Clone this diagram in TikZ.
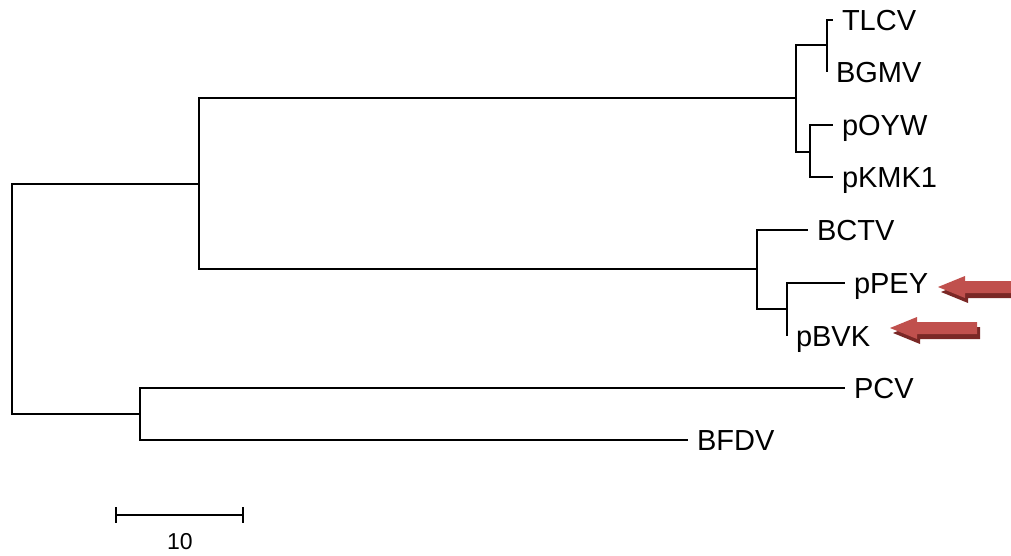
\documentclass[tikz,border=0pt]{standalone}
\usepackage{fontspec}
\setmainfont{Liberation Sans}
\definecolor{pointerface}{HTML}{C0504D}
\definecolor{pointershade}{HTML}{7A2826}
\begin{document}
\begin{tikzpicture}[x=1pt, y=-1pt, line width=2pt,
  every node/.style={font=\fontsize{29}{34}\selectfont},
  leaf/.style={anchor=west, inner sep=8pt, text height=21pt, text depth=0pt},
  pointer/.pic={
    \foreach \dx/\dy/\col in {3/5/pointershade, 0/0/pointerface}
      \fill[\col, shift={(\dx,\dy)}] (0,0) -- (27,-11) -- (27,-6) -- (87,-6)
        -- (87,6) -- (27,6) -- (27,11) -- cycle;
  }]
  \useasboundingbox (0,0) rectangle (1011,556);

  % branch points
  \coordinate (root) at (12,299);
  \coordinate (ingroup) at (199,184);
  \coordinate (gemini) at (796,98);
  \coordinate (tlgrp) at (827,45);
  \coordinate (pgrp) at (810,152);
  \coordinate (curto) at (757,269);
  \coordinate (pvgrp) at (787,309);
  \coordinate (outgrp) at (140,414);

  % leaves
  \node[leaf] (TLCV) at (833,20) {TLCV};
  \node[leaf] (BGMV) at (827,72) {BGMV};
  \node[leaf] (pOYW) at (833,125) {pOYW};
  \node[leaf] (pKMK1) at (833,177) {pKMK1};
  \node[leaf] (BCTV) at (808,230) {BCTV};
  \node[leaf] (pPEY) at (845,283) {pPEY};
  \node[leaf] (pBVK) at (787,336) {pBVK};
  \node[leaf] (PCV) at (845,388) {PCV};
  \node[leaf] (BFDV) at (688,440) {BFDV};

  % branches
  \draw (root) |- (ingroup);
  \draw (root) |- (outgrp);
  \draw (ingroup) |- (gemini);
  \draw (ingroup) |- (curto);
  \draw (gemini) |- (tlgrp);
  \draw (gemini) |- (pgrp);
  \draw (tlgrp) |- (TLCV.west);
  \draw (tlgrp) |- (BGMV.west);
  \draw (pgrp) |- (pOYW.west);
  \draw (pgrp) |- (pKMK1.west);
  \draw (curto) |- (BCTV.west);
  \draw (curto) |- (pvgrp);
  \draw (pvgrp) |- (pPEY.west);
  \draw (pvgrp) |- (pBVK.west);
  \draw (outgrp) |- (PCV.west);
  \draw (outgrp) |- (BFDV.west);

  % markers
  \pic at (938,287) {pointer};
  \pic at (890,328) {pointer};

  % scale bar
  \coordinate (sbl) at (116,515);
  \coordinate (sbr) at (243,515);
  \draw (sbl) -- (sbr);
  \draw ([yshift=8pt]sbl) -- ([yshift=-8pt]sbl);
  \draw ([yshift=8pt]sbr) -- ([yshift=-8pt]sbr);
  \node[font=\fontsize{23}{27}\selectfont] (ten) at (180,542) {10};
\end{tikzpicture}
\end{document}
